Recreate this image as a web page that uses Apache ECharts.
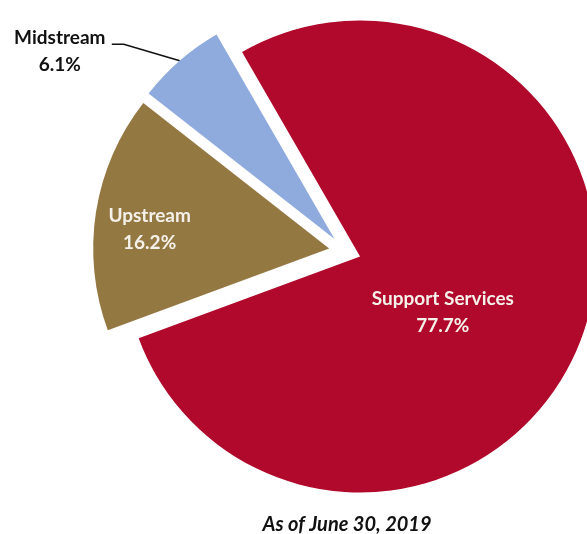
<!DOCTYPE html>
<html>
<head>
<meta charset="utf-8">
<script src="https://cdn.jsdelivr.net/npm/echarts@6/dist/echarts.min.js"></script>
<style>
  html, body { margin: 0; padding: 0; background: #fff; }
  #chart { width: 587px; height: 534px; }
</style>
</head>
<body>
<div id="chart"></div>
<script>
// Segment shares of revenue, as of June 30, 2019
const segments = ['Support Services', 'Upstream', 'Midstream'];
const shares = [77.7, 16.2, 6.1];
const segmentColors = ['#B0092B', '#947842', '#8FAADC'];
const footnote = 'As of June 30, 2019';

// Nudges applied to each segment's label from its default spot
const labelNudge = [
  { dx: -31, dy: 15 },
  { dx: -60, dy: 0 },
  { dx: -61, dy: -5 }
];

const fontFamily = 'Lato, "Open Sans", "Liberation Sans", sans-serif';

const chart = echarts.init(document.getElementById('chart'), null, { renderer: 'canvas' });

const twoLines = p => p.name + '\n' + p.value.toFixed(1) + '%';
// Outside label: both lines centred inside a fixed-width box
const boxedLines = p => '{t|' + p.name + '}\n{t|' + p.value.toFixed(1) + '%}';

const pieData = segments.map((name, i) => ({
  name: name,
  value: shares[i],
  selected: true,
  itemStyle: { color: segmentColors[i] },
  label: i === 2
    ? {
        position: 'outside',
        color: '#111111',
        formatter: boxedLines,
        rich: { t: { width: 100, align: 'center', lineHeight: 27 } }
      }
    : { position: 'inside', color: '#F4F1EA', formatter: twoLines },
  labelLine: i === 2
    ? { show: true, length: 6, length2: 0, lineStyle: { color: '#111111', width: 1.6 } }
    : { show: false }
}));

chart.setOption({
  animation: false,
  backgroundColor: '#ffffff',
  title: {
    text: footnote,
    left: 342,
    top: 510,
    textAlign: 'center',
    textStyle: {
      fontFamily: fontFamily,
      fontSize: 20,
      fontWeight: 'bold',
      fontStyle: 'italic',
      color: '#111111'
    }
  },
  series: [{
    type: 'pie',
    center: [345, 251],
    radius: [0, 236],
    startAngle: 120,
    clockwise: true,
    selectedMode: 'multiple',
    selectedOffset: 16,
    avoidLabelOverlap: false,
    emphasis: { disabled: true },
    label: {
      show: true,
      fontFamily: fontFamily,
      fontSize: 19,
      fontWeight: 'bold',
      lineHeight: 27,
      align: 'center'
    },
    labelLayout: function (params) {
      const nudge = labelNudge[params.dataIndex];
      const pts = params.labelLinePoints;
      if (!pts) {
        return nudge;
      }
      // Leader line runs from the slice edge to the right end of the first text line
      const r = params.labelRect;
      const endX = r.x + r.width + nudge.dx + 2;
      const endY = r.y + nudge.dy + 20;
      return {
        dx: nudge.dx,
        dy: nudge.dy,
        labelLinePoints: [pts[0], [endX + 12, endY], [endX, endY]]
      };
    },
    data: pieData
  }]
});
</script>
</body>
</html>
